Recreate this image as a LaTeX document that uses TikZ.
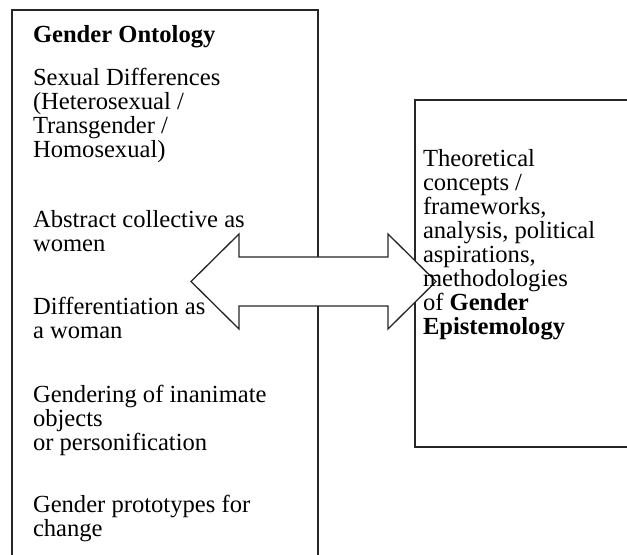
\documentclass[tikz,border=0pt]{standalone}
\usepackage{fontspec}
\setmainfont{Liberation Serif}
\tikzset{
  frame/.style={draw=black!85, line width=0.65pt},
  bigarrow/.style={draw=black!85, line width=0.65pt, fill=white, line join=miter},
  % multi-line nodes sit on the baseline of their last line
  txt/.style={anchor=base west, inner sep=0pt, outer sep=0pt, align=left,
              font=\fontsize{12.3}{12}\selectfont},
}
\begin{document}
\begin{tikzpicture}[x=0.5pt, y=-0.5pt]
  \useasboundingbox (0,0) rectangle (627,555);
  \clip (0,0) rectangle (627,555);

  % left column frame (runs on below the page)
  \draw[frame] (12,570) -- (12,10) -- (318,10) -- (318,570);
  % right column frame (runs on past the right edge)
  \draw[frame] (640,100) -- (415,100) -- (415,447) -- (640,447);

  % two-headed block arrow between the columns
  \coordinate (ltip) at (191,281.5);
  \coordinate (rtip) at (436,281.5);
  \draw[bigarrow] (ltip) -- (239,234) -- (239,257) -- (388,257) -- (388,234)
     -- (rtip) -- (388,329) -- (388,306) -- (239,306) -- (239,329) -- cycle;

  % left column text
  \node[txt] (ontology) at (33,43) {\textbf{Gender Ontology}};
  \node[txt] (sexual) at (33,158) {Sexual Differences\\(Heterosexual /\\Transgender /\\Homosexual)};
  \node[txt] (abstract) at (33,252) {Abstract collective as\\women};
  \node[txt] (differ) at (33,339) {Differentiation as\\a woman};
  \node[txt] (inanimate) at (33,451) {Gendering of inanimate\\objects\\or personification};
  \node[txt] (proto) at (33,537) {Gender prototypes for\\change};

  % right column text
  \node[txt] (episteme) at (423,335) {Theoretical\\concepts /\\frameworks,\\analysis, political\\aspirations,\\methodologies\\of \textbf{Gender}\\\textbf{Epistemology}};
\end{tikzpicture}
\end{document}
